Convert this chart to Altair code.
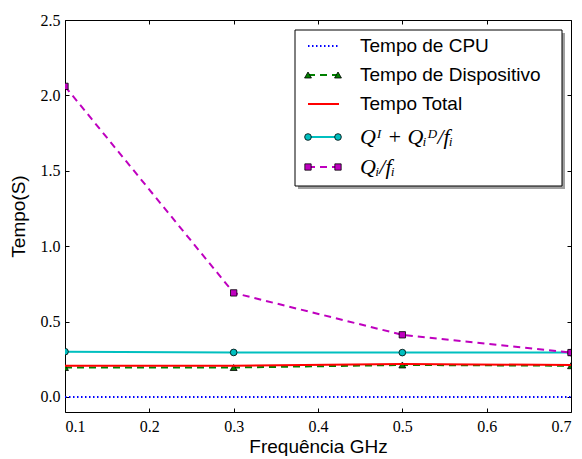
import altair as alt
import pandas as pd

# ---- data ----
freq = [0.1, 0.3, 0.5, 0.7]
cpu = [0.0, 0.0, 0.0, 0.0]
device = [0.195, 0.195, 0.212, 0.207]
total = [0.207, 0.207, 0.218, 0.212]
qid = [0.300, 0.295, 0.294, 0.294]
qf = [2.06, 0.69, 0.412, 0.294]

names = ["Tempo de CPU", "Tempo de Dispositivo", "Tempo Total",
         "Qᴵ + Qᵢᴰ/fᵢ", "Qᵢ/fᵢ"]
xticks = [0.1, 0.2, 0.3, 0.4, 0.5, 0.6, 0.7]
yticks = [0.0, 0.5, 1.0, 1.5, 2.0, 2.5]

df = pd.DataFrame({"f": freq, "cpu": cpu, "device": device,
                   "total": total, "qid": qid, "qf": qf})

W, H = 506, 392
xs = alt.Scale(domain=[0.1, 0.7], nice=False, zero=False)
ys = alt.Scale(domain=[-0.1, 2.5], nice=False, zero=False)

SERIF = "Liberation Serif"
SANS = "Liberation Sans"

# field, label, color, dash, shape, size, math
series = [
    ("cpu", names[0], "#0000ff", [1.5, 2.5], None, 0, False),
    ("device", names[1], "#008000", [7, 5], "triangle-up", 48, False),
    ("total", names[2], "#ff0000", None, None, 0, False),
    ("qid", names[3], "#00bfbf", None, "circle", 45, True),
    ("qf", names[4], "#bf00bf", [7, 5], "square", 40, True),
]

axes_main = alt.Chart(df).mark_line(opacity=0).encode(
    x=alt.X("f:Q", scale=xs, axis=alt.Axis(
        orient="bottom", values=xticks, format=".1f", offset=-4, tickSize=4,
        labelPadding=6, labelFont=SERIF, labelFontSize=16,
        title="Frequência GHz", titlePadding=3,
        domain=False, grid=False)),
    y=alt.Y("qf:Q", scale=ys, axis=alt.Axis(
        orient="left", values=yticks, format=".1f", offset=-4, tickSize=4,
        labelPadding=5, labelFont=SERIF, labelFontSize=16,
        title="Tempo(S)", titlePadding=12,
        domain=False, grid=False)),
)
axes_aux = alt.Chart(df).mark_line(opacity=0).encode(
    x=alt.X("f:Q", scale=xs, axis=alt.Axis(
        orient="top", values=xticks, offset=-4, tickSize=4, labels=False,
        title=None, domain=False, grid=False)),
    y=alt.Y("qf:Q", scale=ys, axis=alt.Axis(
        orient="right", values=yticks, offset=-4, tickSize=4, labels=False,
        title=None, domain=False, grid=False)),
)

layers = [axes_main, axes_aux]
for field, label, color, dash, shape, size, math in series:
    lk = dict(color=color, strokeWidth=2, clip=True)
    if dash:
        lk["strokeDash"] = dash
    enc = dict(x=alt.X("f:Q", scale=xs, axis=None),
               y=alt.Y(f"{field}:Q", scale=ys, axis=None))
    layers.append(alt.Chart(df).mark_line(**lk).encode(**enc))
    if shape:
        layers.append(alt.Chart(df).mark_point(
            shape=shape, filled=True, fill=color, stroke="black",
            strokeWidth=0.8, size=size, opacity=1, clip=True).encode(**enc))

# ---- legend box ----
one = pd.DataFrame({"k": [0]})
layers.append(alt.Chart(one).mark_rect(fill="#888888", opacity=0.8).encode(
    x=alt.value(233), x2=alt.value(500), y=alt.value(13), y2=alt.value(169)))
layers.append(alt.Chart(one).mark_rect(fill="white", stroke="black",
                                        strokeWidth=1).encode(
    x=alt.value(230), x2=alt.value(497), y=alt.value(10), y2=alt.value(166)))

rows_y = [26, 55, 84, 117, 147]
for (field, label, color, dash, shape, size, math), ry in zip(series, rows_y):
    lk = dict(color=color, strokeWidth=2)
    if dash:
        lk["strokeDash"] = dash
    layers.append(alt.Chart(one).mark_rule(**lk).encode(
        x=alt.value(243), x2=alt.value(274), y=alt.value(ry)))
    if shape:
        for px in (243, 273):
            layers.append(alt.Chart(one).mark_point(
                shape=shape, filled=True, fill=color, stroke="black",
                strokeWidth=0.8, size=size, opacity=1).encode(
                x=alt.value(px), y=alt.value(ry)))
    tk = dict(text=label, align="left", baseline="middle", color="black")
    if math:
        tk.update(font=SERIF, fontStyle="italic", fontSize=22)
    else:
        tk.update(font=SANS, fontSize=19)
    layers.append(alt.Chart(one).mark_text(**tk).encode(
        x=alt.value(295), y=alt.value(ry)))

chart = alt.layer(*layers).resolve_axis(
    x="independent", y="independent"
).properties(
    width=W, height=H,
    padding={"left": 1, "top": 4, "right": 0, "bottom": 0},
    background="white",
).configure_axis(
    labelColor="black", tickColor="black", tickWidth=1,
    titleFont=SANS, titleFontSize=19, titleFontWeight="normal",
    titleColor="black",
).configure_view(stroke="black", strokeWidth=1)

chart.save("out.html", embed_options={"renderer": "svg", "actions": False})
